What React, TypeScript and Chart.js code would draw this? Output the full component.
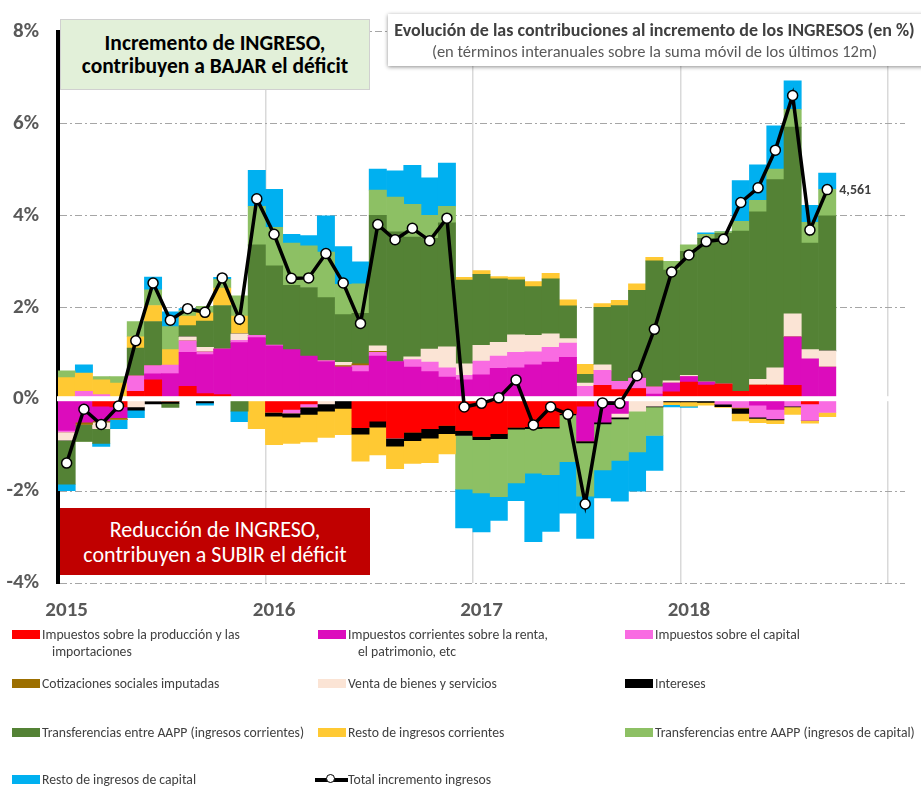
import React, { useEffect, useRef } from 'react';
import { Chart, registerables } from 'chart.js';

Chart.register(...registerables);

const FONT = '"Liberation Sans Narrow", "Arial Narrow", Carlito, "Open Sans", sans-serif';

// Year tick labels and the monthly categories (Jan 2015 .. Jan 2019)
const yearLabels = ['2015', '2016', '2017', '2018'];
const monthCategories: string[] = [];
yearLabels.forEach((y) => {
  for (let m = 1; m <= 12; m++) monthCategories.push(`${y}-${String(m).padStart(2, '0')}`);
});
monthCategories.push('2019-01');

const yTicks = [-4, -2, 0, 2, 4, 6, 8];

// Series (percentage points), Jan 2015 .. Sep 2018
const impProduccion = [0, 0, -0.15, -0.17, 0.17, 0.42, -0.04, 0.28, 0.12, 0.10, 0, 0, -0.28, -0.22, -0.10, 0, 0, -0.62, -0.48, -0.84, -0.72, -0.64, -0.57, -0.68, -0.81, -0.75, -0.61, -0.60, -0.60, -0.31, -0.15, 0.30, 0.21, 0.23, 0, 0.16, 0.37, 0.31, 0.33, 0.17, 0.31, 0.31, 0.30, -0.10, 0];
const impRenta = [-0.68, -0.50, -0.32, -0.23, 0, 0.13, 0.56, 0.74, 0.85, 0.99, 1.23, 1.34, 1.16, 1.08, 0.94, 0.82, 0.70, 0.60, 0.94, 0.82, 0.70, 0.60, 0.48, 0.42, 0.53, 0.67, 0.68, 0.75, 0.81, 0.91, -0.76, -0.50, -0.31, 0, 0.11, 0.19, 0.12, 0.06, 0, 0, -0.13, -0.22, 1.06, 0.88, 0.70];
const impCapital = [-0.03, 0.17, 0.10, 0, 0.34, 0.18, 0.18, 0.25, 0.06, 0, 0.05, 0.05, 0.02, -0.08, -0.07, 0.02, 0, 0.13, 0.08, 0, 0.16, 0.21, 0.20, 0.10, 0.30, 0.27, 0.34, 0.28, 0.32, 0.31, 0.28, 0.33, 0.18, 0.23, 0.16, 0, 0, 0, -0.11, -0.18, -0.26, -0.21, -0.15, -0.36, -0.29];
const cotizaciones = [0, -0.05, -0.03, -0.04, 0, 0, 0, 0, 0, 0, 0, 0, 0, 0, 0, 0, 0.03, 0.04, 0.02, 0, 0, 0, 0, 0, 0, 0, 0, 0, 0, 0, 0, 0, 0, 0, 0, 0, 0, 0, 0, -0.02, 0, 0, 0, 0, 0];
const ventaBienes = [-0.18, 0, -0.14, 0, -0.17, -0.04, 0, 0.09, 0.10, 0, 0.14, 0, 0, 0, 0, -0.10, 0.07, 0, 0.12, 0, 0.06, 0.28, 0.46, 0.25, 0.34, 0.30, 0.38, 0.36, 0.29, 0.10, 0.07, 0.12, -0.08, -0.26, -0.15, 0.05, 0.03, 0, 0, 0, 0.12, 0.37, 0.50, 0.20, 0.35];
const intereses = [0, 0, 0, 0, -0.07, -0.06, -0.05, 0, -0.08, 0, 0, 0, -0.09, -0.09, -0.16, -0.16, -0.20, -0.14, -0.13, -0.18, -0.18, -0.21, -0.18, -0.11, -0.07, -0.11, -0.04, -0.04, -0.03, -0.03, -0.04, -0.04, -0.04, 0, -0.02, -0.06, -0.06, -0.07, -0.05, -0.11, -0.03, -0.02, -0.02, 0, 0];
const transfCorrientes = [-0.96, -0.37, -0.32, 0, 0.60, 0.96, -0.09, 0.24, 0.57, 0.95, -0.26, 1.97, 1.72, 1.40, 1.49, 1.37, 1.04, 1.10, 2.84, 2.82, 2.61, 2.41, 2.70, 1.82, 1.55, 1.38, 1.20, 1.06, 1.20, 0.71, 0.19, 1.25, 1.65, 1.91, 2.74, 2.41, 2.70, 3.13, 3.28, 3.49, 3.65, 4.10, 4.06, 2.32, 2.94];
const restoCorrientes = [0.47, 0.40, 0.32, 0.35, 0.25, 0.35, 0.34, 0.21, 0.18, 0.38, 0.39, -0.64, -0.62, -0.57, -0.60, -0.57, -0.57, -0.59, -0.60, -0.49, -0.50, -0.53, -0.44, 0.06, 0.08, 0.05, 0.06, 0.11, 0.12, 0.13, 0.22, 0.08, 0.11, 0.14, 0.08, -0.06, -0.09, -0.06, -0.02, -0.16, -0.09, -0.08, -0.16, -0.06, -0.09];
const transfCapital = [0.15, 0, 0.07, 0.14, 0.33, 0.34, 0.50, 0.12, 0.14, 0.19, 0.44, 0.84, 0.84, 0.92, 0.91, 0.99, 0.66, 0.64, 0.55, 0.76, 0.71, 0.50, 0.36, -1.17, -1.16, -1.26, -1.17, -0.97, -1.01, -1.02, -1.16, -1.00, -0.90, -0.89, -0.62, 0.19, 0.14, 0.09, 0.04, 0.21, 0.25, 0.23, 0.39, 0.45, 0.58];
const restoCapital = [-0.14, 0.18, -0.07, -0.20, -0.16, 0.28, 0.32, 0.04, -0.05, 0.04, -0.23, 0.78, 0.83, 0.19, 0.22, 0.79, 0.82, 0.48, 0.46, 0.57, 0.85, 0.82, 0.94, -0.84, -0.85, -0.52, -0.39, -1.49, -1.24, -1.12, -0.92, -0.61, -0.89, -0.85, -0.76, -0.05, -0.03, 0.03, 0, 0.89, 0.77, 0.94, 0.62, 0.37, 0.35];
const totalIngresos = [-1.39, -0.22, -0.55, -0.15, 1.27, 2.53, 1.72, 1.97, 1.89, 2.64, 1.74, 4.36, 3.59, 2.63, 2.64, 3.17, 2.53, 1.65, 3.80, 3.47, 3.72, 3.45, 3.94, -0.17, -0.09, 0.03, 0.42, -0.56, -0.17, -0.33, -2.28, -0.08, -0.09, 0.51, 1.52, 2.77, 3.14, 3.43, 3.48, 4.28, 4.60, 5.42, 6.61, 3.68, 4.561];

const seriesNames = [
  'Impuestos sobre la producción y las|importaciones',
  'Impuestos corrientes sobre la renta,|el patrimonio, etc',
  'Impuestos sobre el capital',
  'Cotizaciones sociales imputadas',
  'Venta de bienes y servicios',
  'Intereses',
  'Transferencias entre AAPP (ingresos corrientes)',
  'Resto de ingresos corrientes',
  'Transferencias entre AAPP (ingresos de capital)',
  'Resto de ingresos de capital',
];
const seriesColors = ['#FF0000', '#DC0CBC', '#F96BE2', '#9C6F00', '#FBE4D5', '#000000', '#548235', '#FFC933', '#8DC064', '#00B0F0'];
const seriesData = [impProduccion, impRenta, impCapital, cotizaciones, ventaBienes, intereses, transfCorrientes, restoCorrientes, transfCapital, restoCapital];
const totalName = 'Total incremento ingresos';

const LINE_INDEX = seriesData.length;

const zeroBandPlugin = {
  id: 'zeroBand',
  beforeDatasetDraw(chart: any, args: any) {
    if (args.index !== LINE_INDEX) return;
    const y = chart.scales.y.getPixelForValue(0);
    const { left, right } = chart.chartArea;
    const ctx = chart.ctx;
    ctx.save();
    ctx.fillStyle = '#ffffff';
    ctx.fillRect(left - 1, y - 3, right - left + 1, 5);
    ctx.restore();
  },
};

const lastLabelPlugin = {
  id: 'lastLabel',
  afterDatasetsDraw(chart: any) {
    const meta = chart.getDatasetMeta(LINE_INDEX);
    const pts = meta.data;
    if (!pts.length) return;
    const p = pts[pts.length - 1];
    const v = totalIngresos[totalIngresos.length - 1];
    const ctx = chart.ctx;
    ctx.save();
    ctx.font = `bold 14px ${FONT}`;
    ctx.fillStyle = '#404040';
    ctx.textAlign = 'left';
    ctx.textBaseline = 'middle';
    ctx.fillText(v.toFixed(3).replace('.', ','), p.x + 12, p.y + 1);
    ctx.restore();
  },
};

export default function App() {
  const ref = useRef<HTMLCanvasElement>(null);

  useEffect(() => {
    const datasets: any[] = seriesData.map((d, i) => ({
      type: 'bar',
      label: seriesNames[i].replace('|', ' '),
      data: d,
      backgroundColor: seriesColors[i],
      borderWidth: 0,
      barPercentage: 1,
      categoryPercentage: 1,
      stack: 'contrib',
      order: 1,
    }));
    datasets.push({
      type: 'line',
      label: totalName,
      data: totalIngresos,
      borderColor: '#000000',
      borderWidth: 3.5,
      pointRadius: 5,
      pointBackgroundColor: '#ffffff',
      pointBorderColor: '#000000',
      pointBorderWidth: 1.5,
      tension: 0,
      stack: 'total',
      order: 0,
      clip: false,
    });

    const chart = new Chart(ref.current as HTMLCanvasElement, {
      type: 'bar',
      data: { labels: monthCategories, datasets },
      plugins: [zeroBandPlugin, lastLabelPlugin],
      options: {
        animation: false,
        responsive: false,
        devicePixelRatio: 1,
        layout: { padding: { top: 18, right: 16, left: 0, bottom: 0 } },
        plugins: { legend: { display: false }, tooltip: { enabled: false }, title: { display: false } },
        scales: {
          x: {
            type: 'category',
            stacked: true,
            offset: true,
            afterFit: (s: any) => { s.height = 204; },
            grid: {
              offset: true,
              drawTicks: false,
              lineWidth: 1.5,
              color: (c: any) => (c.index !== undefined && c.index % 12 === 0 ? '#D9D9D9' : 'rgba(0,0,0,0)'),
            },
            border: { display: false },
            ticks: {
              autoSkip: false,
              maxRotation: 0,
              minRotation: 0,
              padding: 15,
              color: '#595959',
              font: { family: FONT, size: 21, weight: 'bold' },
              callback: (_v: any, i: number) => (i % 12 === 0 && yearLabels[i / 12] ? yearLabels[i / 12] : ''),
            },
          },
          y: {
            stacked: true,
            min: yTicks[0],
            max: yTicks[yTicks.length - 1],
            afterFit: (s: any) => { s.width = 58; },
            afterBuildTicks: (s: any) => { s.ticks = yTicks.map((v) => ({ value: v })); },
            grid: {
              drawTicks: false,
              lineWidth: 1,
              color: (c: any) => (c.tick && c.tick.value === 0 ? 'rgba(0,0,0,0)' : '#A6A6A6'),
            },
            border: { display: true, color: '#000000', width: 4, dash: [7, 3, 2, 3] },
            ticks: {
              padding: 19,
              color: '#595959',
              font: { family: FONT, size: 21, weight: 'bold' },
              callback: (v: any) => `${v}%`,
            },
          },
        },
      } as any,
    });
    return () => chart.destroy();
  }, []);

  const legendCols = [12, 318, 625];
  const legendRows = [626, 675, 724, 771];

  return (
    <div style={{ position: 'fixed', left: 0, top: 0, width: 921, height: 787, background: '#ffffff', overflow: 'hidden', fontFamily: FONT }}>
      <canvas ref={ref} width={921} height={787} style={{ position: 'absolute', left: 0, top: 0, width: 921, height: 787 }} />

      <div style={{ position: 'absolute', left: 60, top: 19, width: 310, height: 71, background: '#E2F0D9', border: '1px solid #D0D0D0', boxSizing: 'border-box', display: 'flex', flexDirection: 'column', alignItems: 'center', justifyContent: 'center', fontWeight: 'bold', fontSize: 21.5, lineHeight: '23px', color: '#000' }}>
        <div>Incremento de INGRESO,</div>
        <div>contribuyen a BAJAR el déficit</div>
      </div>

      <div style={{ position: 'absolute', left: 60, top: 508, width: 310, height: 67, background: '#C00000', boxSizing: 'border-box', display: 'flex', flexDirection: 'column', alignItems: 'center', justifyContent: 'center', fontSize: 22, lineHeight: '25px', color: '#fff' }}>
        <div>Reducción de INGRESO,</div>
        <div>contribuyen a SUBIR el déficit</div>
      </div>

      <div style={{ position: 'absolute', left: 388, top: 14, width: 540, height: 52, background: '#fff', boxShadow: '0 1px 4px rgba(0,0,0,0.45)', boxSizing: 'border-box', textAlign: 'center' }}>
        <div style={{ position: 'absolute', left: 0, width: 533, top: 5, fontWeight: 'bold', fontSize: 18, lineHeight: '22px', color: '#404040', whiteSpace: 'nowrap' }}>
          Evolución de las contribuciones al incremento de los INGRESOS (en %)
        </div>
        <div style={{ position: 'absolute', left: 0, width: 533, top: 28, fontSize: 16.5, lineHeight: '19px', color: '#595959', whiteSpace: 'nowrap' }}>
          (en términos interanuales sobre la suma móvil de los últimos 12m)
        </div>
      </div>

      {seriesNames.map((name, i) => {
        const col = i % 3;
        const row = Math.floor(i / 3);
        const lines = name.split('|');
        return (
          <div key={name} style={{ position: 'absolute', left: legendCols[col], top: legendRows[row], fontSize: 13.7, lineHeight: '17px', color: '#404040' }}>
            <div style={{ position: 'absolute', left: 0, top: 4, width: 28, height: 9, background: seriesColors[i] }} />
            <div style={{ position: 'absolute', left: 30, top: 0, whiteSpace: 'nowrap' }}>
              {lines[0]}
              {lines[1] ? <div style={{ paddingLeft: 10 }}>{lines[1]}</div> : null}
            </div>
          </div>
        );
      })}
      <div style={{ position: 'absolute', left: legendCols[1] - 3, top: legendRows[3], fontSize: 13.7, lineHeight: '17px', color: '#404040' }}>
        <div style={{ position: 'absolute', left: 0, top: 7, width: 33, height: 3.5, background: '#000' }} />
        <div style={{ position: 'absolute', left: 11, top: 3, width: 9, height: 9, borderRadius: '50%', background: '#fff', border: '1.5px solid #000', boxSizing: 'border-box' }} />
        <div style={{ position: 'absolute', left: 33, top: 0, whiteSpace: 'nowrap' }}>{totalName}</div>
      </div>
    </div>
  );
}
